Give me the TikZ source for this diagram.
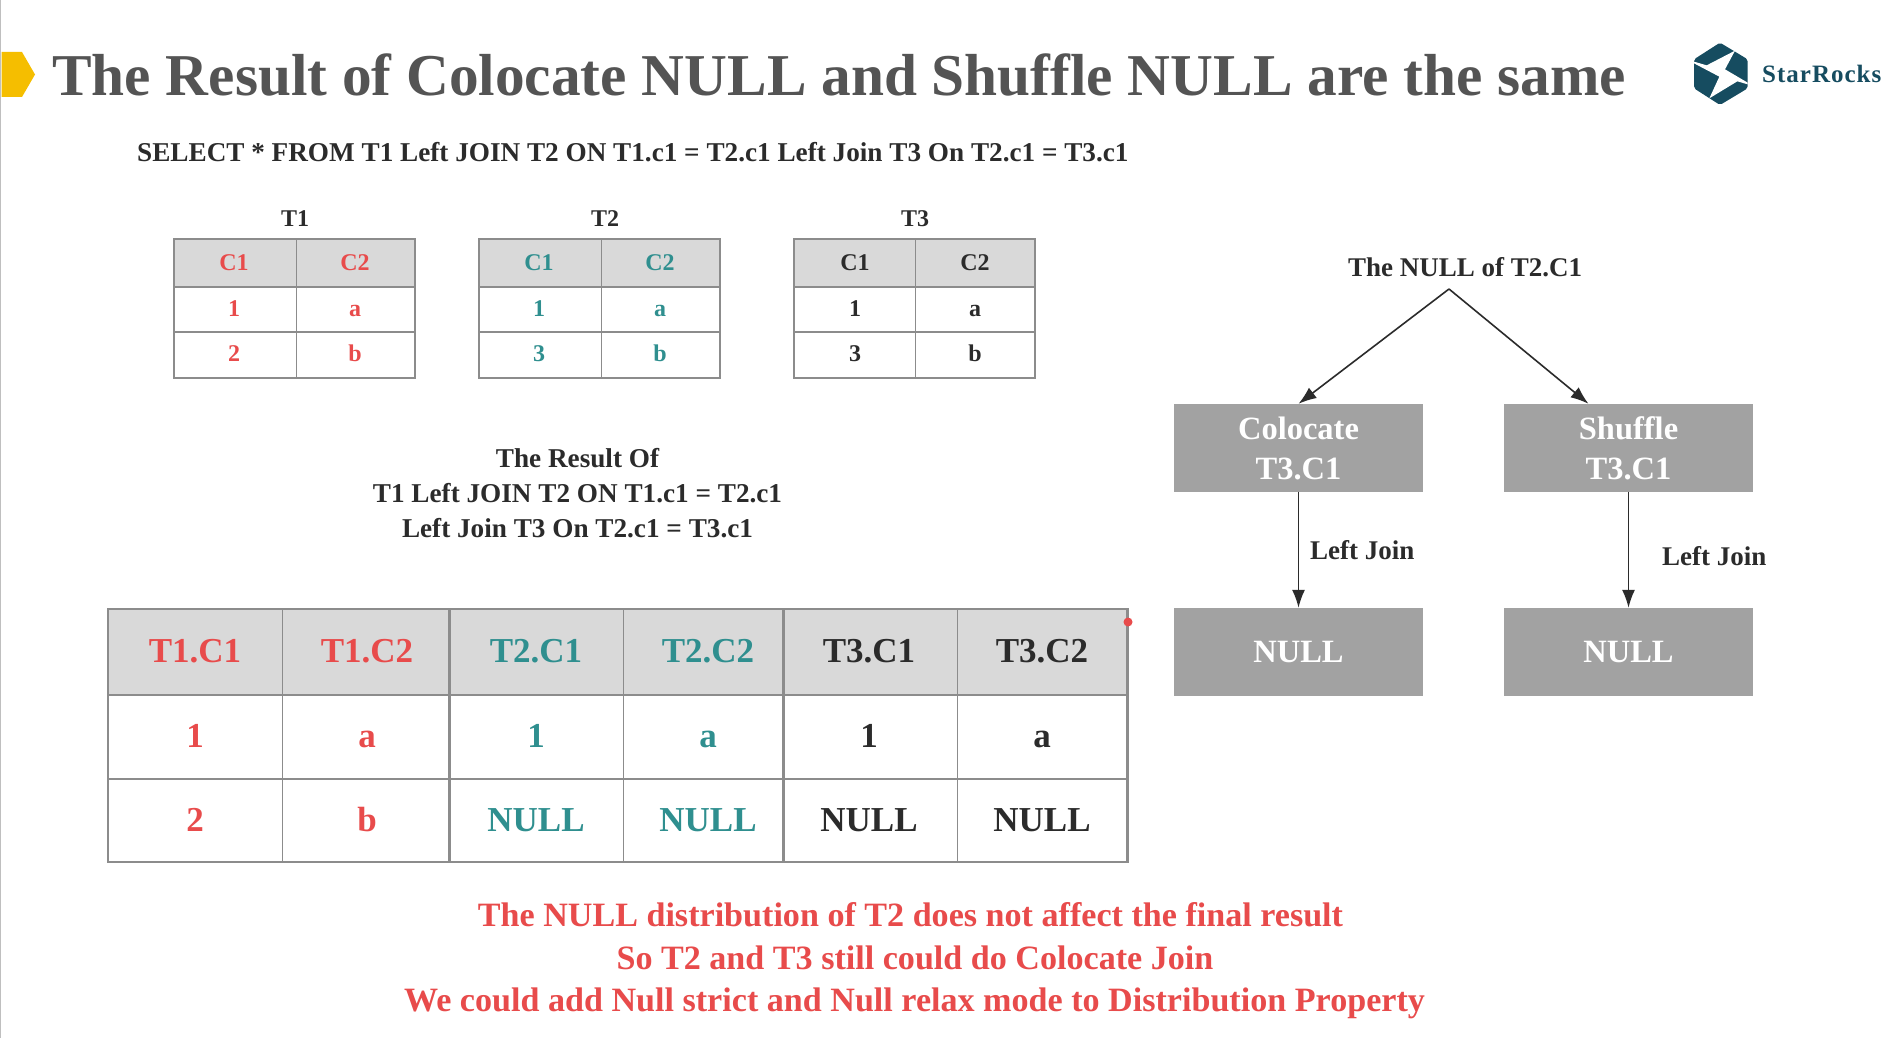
\documentclass[tikz,border=0pt]{standalone}
\usepackage{fontspec}
\usetikzlibrary{arrows.meta}
\setmainfont{Liberation Serif}
\definecolor{tred}{HTML}{E84B4B}
\definecolor{tteal}{HTML}{2F8F8F}
\definecolor{tdark}{HTML}{2B2B2B}
\definecolor{thead}{HTML}{D9D9D9}
\definecolor{tline}{HTML}{8C8C8C}
\definecolor{tbox}{HTML}{A2A2A2}
\definecolor{tlogo}{HTML}{164C60}
\definecolor{tmark}{HTML}{F5BE00}
\begin{document}
\begin{tikzpicture} [
        x=1pt,y=-1pt,
        label/.style={font=\bfseries\fontsize{#1}{#1}\selectfont,inner sep=0pt,align=center},
        label/.default=27,
        cell/.style={label=#1,anchor=base},
        thinrule/.style={draw=tline,line width=1pt},
        thickrule/.style={draw=tline,line width=2.6pt},
        flowbox/.style={fill=tbox,text=white,minimum width=249pt,minimum height=88pt,inner sep=0pt,
            font=\bfseries\fontsize{32.5}{40}\selectfont,align=center},
        flowarrow/.style={draw=tdark,line width=1.6pt,-{Latex[length=18pt,width=13pt]}},
    ]
    \useasboundingbox (0,0) rectangle (1902,1038);
    \fill[white] (0,0) rectangle (1902,1038);
    \draw[lightgray,line width=1.5pt] (0.7,0) -- (0.7,1038);
    % title
    \fill[tmark] (1.5,52) -- (22,52) -- (35,74.5) -- (22,97) -- (1.5,97) -- cycle;
    \node[label=59.3,text=black!67,anchor=west] (title) at (52,75) {The Result of Colocate NULL and Shuffle NULL are the same};
    \node[label=27.2,text=tdark,anchor=west] (query) at (137,152) {SELECT * FROM T1 Left JOIN T2 ON T1.c1 = T2.c1 Left Join T3 On T2.c1 = T3.c1};
    % logo
    \begin{scope}[shift={(1680,30)},x=0.3333pt,y=-0.3333pt]
        \fill[tlogo,rounded corners=2pt] (120,38) -- (203,88) -- (203,175) -- (120,225) -- (42,175) -- (42,88) -- cycle;
        \fill[white] (165,62) -- (80,106) -- (42,95) -- (42,100) -- (118,140) -- (88,205) -- (172,154) -- (203,163) -- (203,158) -- (135,118) -- cycle;
    \end{scope}
    \node[font=\bfseries\fontsize{25}{25}\selectfont,text=tlogo,inner sep=0pt,anchor=west] (logo) at (1762,74) {S\kern1pt t\kern1pt a\kern1pt r\kern1pt R\kern1pt o\kern1pt c\kern1pt k\kern1pt s};
    % small tables
    \foreach \x/\xa/\xb/\xl/\xm/\xr/\name/\col/\first in {
        174/296/415/234/295/355/T1/tred/2, 479/601/720/539/605/660/T2/tteal/3, 794/915/1035/855/915/975/T3/tdark/3} {
        \fill[thead] (\x,239) rectangle (\xb,287);
        \path[thinrule] (\xa,239) -- (\xa,378);
        \path[thickrule,line width=1.8pt] (\x,287) -- (\xb,287) (\x,332) -- (\xb,332);
        \path[thickrule] (\x,239) rectangle (\xb,378);
        \node[label=24,text=tdark] (\name) at (\xm,219) {\name};
        \foreach \xc/\ya/\yb/\yc/\suffix in {
            \xl/C1/1/\first/l, \xr/C2/a/b/r} {
            \node[cell=24,text=\col] (\name h\suffix) at (\xc,270) {\ya};
            \node[cell=24,text=\col] (\name a\suffix) at (\xc,316) {\yb};
            \node[cell=24,text=\col] (\name b\suffix) at (\xc,361) {\yc};
        }
    }
    % result text
    \node[label=27.2,text=tdark] (result) at (577.5,493) {The Result Of\\[8pt]T1 Left JOIN T2 ON T1.c1 = T2.c1\\[8pt]Left Join T3 On T2.c1 = T3.c1};
    % result table
    \fill[thead] (108,609) rectangle (1127.5,695);
    \foreach \x in {282,623,957}
        \path[thinrule] (\x,609) -- (\x,862);
    \foreach \x in {449.5,783.5}
        \path[thickrule,line width=2.2pt] (\x,609) -- (\x,862);
    \path[thickrule,line width=1.8pt] (108,695) -- (1127.5,695) (108,779) -- (1127.5,779);
    \path[thickrule] (108,609) rectangle (1127.5,862);
    \foreach \x/\col/\head/\one/\two/\name in {
        195/tred/T1.C1/1/2/ra, 367/tred/T1.C2/a/b/rb,
        536/tteal/T2.C1/1/NULL/rc, 708/tteal/T2.C2/a/NULL/rd,
        869/tdark/T3.C1/1/NULL/re, 1042/tdark/T3.C2/a/NULL/rf} {
        \node[cell=35,text=\col] (\name h) at (\x,662.5) {\head};
        \node[cell=35,text=\col] (\name a) at (\x,747.5) {\one};
        \node[cell=35,text=\col] (\name b) at (\x,831.5) {\two};
    }
    \fill[tred] (1128,622) circle (4.5pt);
    % flow
    \node[label=27,text=tdark] (null) at (1465,267) {The NULL of T2.C1};
    \coordinate (apex) at (1449,289);
    \node[flowbox] (colocate) at (1298.5,448) {Colocate\\T3.C1};
    \node[flowbox] (shuffle) at (1628.5,448) {Shuffle\\T3.C1};
    \node[flowbox] (nullc) at (1298.5,652) {NULL};
    \node[flowbox] (nulls) at (1628.5,652) {NULL};
    \path[flowarrow] (apex) -- (colocate.north);
    \path[flowarrow] (apex) -- ([xshift=-40pt]shuffle.north);
    \path[flowarrow] (colocate) -- (nullc);
    \path[flowarrow] (shuffle) -- (nulls);
    \node[label=27,text=tdark,anchor=west] (joinc) at (1310,550) {Left Join};
    \node[label=27,text=tdark,anchor=west] (joins) at (1662,556) {Left Join};
    % conclusion
    \node[label=34.1,text=tred] (concla) at (910.5,915) {The NULL distribution of T2 does not affect the final result};
    \node[label=34.1,text=tred] (conclb) at (915,958) {So T2 and T3 still could do Colocate Join};
    \node[label=34.1,text=tred] (conclc) at (914.5,1003.5) {We could add Null strict and Null relax mode to Distribution Property};
\end{tikzpicture}
\end{document}
